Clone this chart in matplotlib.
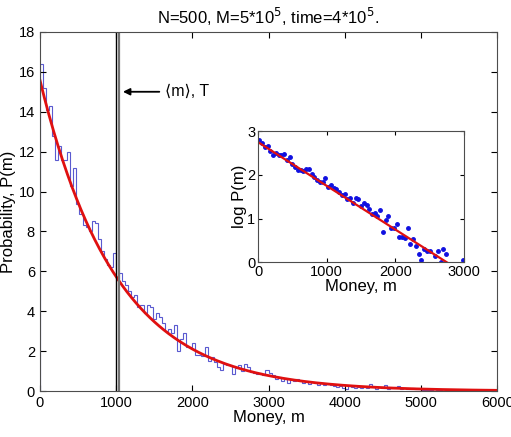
import numpy as np
import matplotlib
matplotlib.use("Agg")
import matplotlib.pyplot as plt

plt.rcParams['font.family'] = ['Liberation Sans', 'DejaVu Sans']
plt.rcParams['font.size'] = 10.5

# histogram of money, bin width 40, from 0 to 6000
bin_width = 40
prob = [
    16.4, 15.2, 14.1, 14.3, 12.8, 11.6, 12.3, 11.6, 11.6, 12.0,
    10.3, 11.2, 9.4, 8.9, 8.3, 8.2, 8.0, 8.5, 8.4, 7.6,
    7.0, 6.6, 6.3, 6.2, 6.9, 5.6, 5.9, 5.5, 5.3, 5.0,
    4.7, 4.8, 4.2, 4.3, 3.9, 4.3, 4.2, 3.6, 3.9, 3.7,
    3.4, 3.0, 3.1, 2.9, 3.3, 2.0, 2.6, 2.9, 2.2, 2.2,
    2.4, 1.8, 1.8, 1.75, 2.2, 1.5, 1.7, 1.45, 1.2, 1.05,
    1.35, 1.3, 1.3, 0.87, 1.15, 1.3, 1.0, 1.35, 1.2, 0.95,
    0.9, 0.85, 0.9, 0.8, 1.05,
    0.9, 0.8, 0.6, 0.7, 0.5, 0.6, 0.4, 0.6, 0.5, 0.6,
    0.5, 0.4, 0.5, 0.35, 0.45, 0.4, 0.3, 0.4, 0.3, 0.35,
    0.3, 0.25, 0.2, 0.25, 0.15, 0.1, 0.25, 0.2, 0.15, 0.2,
    0.15, 0.2, 0.15, 0.35, 0.25, 0.1, 0.2, 0.15, 0.3, 0.1,
    0.15, 0.2, 0.25, 0.1, 0.15, 0.1, 0.1, 0.15, 0.12, 0.1,
    0.05, 0.08, 0.04, 0.06, 0.1, 0.05, 0.07, 0.03, 0.06, 0.04,
    0.05, 0.08, 0.03, 0.06, 0.04, 0.02, 0.05, 0.03, 0.08, 0.02,
    0.04, 0.03, 0.02, 0.03, 0.02,
]

# exponential (Boltzmann-Gibbs) fit P(m) = P0 * exp(-m/T)
P0 = 15.6
T = 1000.0
mean_m = [1000, 1035]

prob = np.array(prob)
edges = np.arange(len(prob) + 1) * bin_width
centers = edges[:-1] + bin_width / 2
m_fit = np.linspace(0, 6000, 300)
p_fit = P0 * np.exp(-m_fit / T)

fig = plt.figure(figsize=(5.11, 4.37), dpi=100)
ax = fig.add_axes([0.078, 0.105, 0.895, 0.822])

ax.stairs(prob, edges, color='#5a5ad0', lw=0.8)
ax.plot(m_fit, p_fit, color='#e01010', lw=2)
ax.axvline(mean_m[0], color='black', lw=1)
ax.axvline(mean_m[1], color='0.45', lw=1.6)

ax.annotate('\u27e8m\u27e9, T', xy=(1090, 15), xytext=(1640, 15),
            va='center', fontsize=11.5,
            arrowprops=dict(arrowstyle='-|>', color='black', lw=1.3,
                            mutation_scale=10, shrinkA=2, shrinkB=0))

ax.set_xlim(0, 6000)
ax.set_ylim(0, 18)
ax.set_xticks(range(0, 6001, 1000))
ax.set_yticks(range(0, 19, 2))
ax.set_xlabel('Money, m', fontsize=12, labelpad=0)
ax.set_ylabel('Probability, P(m)', fontsize=12, labelpad=2)
ax.set_title('N=500, M=5*10$^5$, time=4*10$^5$.', fontsize=12, pad=6)
ax.tick_params(direction='in', top=True, right=True, length=4)
for s in ax.spines.values():
    s.set_color('0.3')

# inset: log of the distribution
ins = fig.add_axes([0.505, 0.400, 0.403, 0.300])
mask = (centers < 3000) & (prob > 0)
ins.plot(centers[mask], np.log(prob[mask]), '.', color='#1010e0', ms=5)
m_line = np.linspace(0, 3000, 100)
ins.plot(m_line, np.log(P0) - m_line / T, color='#e01010', lw=1.6)
ins.set_xlim(0, 3000)
ins.set_ylim(0, 3)
ins.set_xticks([0, 1000, 2000, 3000])
ins.set_yticks([0, 1, 2, 3])
ins.set_xlabel('Money, m', fontsize=12, labelpad=0)
ins.set_ylabel('log P(m)', fontsize=12, labelpad=0)
ins.tick_params(direction='in', top=True, right=True, length=3, pad=2)
for s in ins.spines.values():
    s.set_color('0.3')

fig.savefig('out.png', dpi=100)
